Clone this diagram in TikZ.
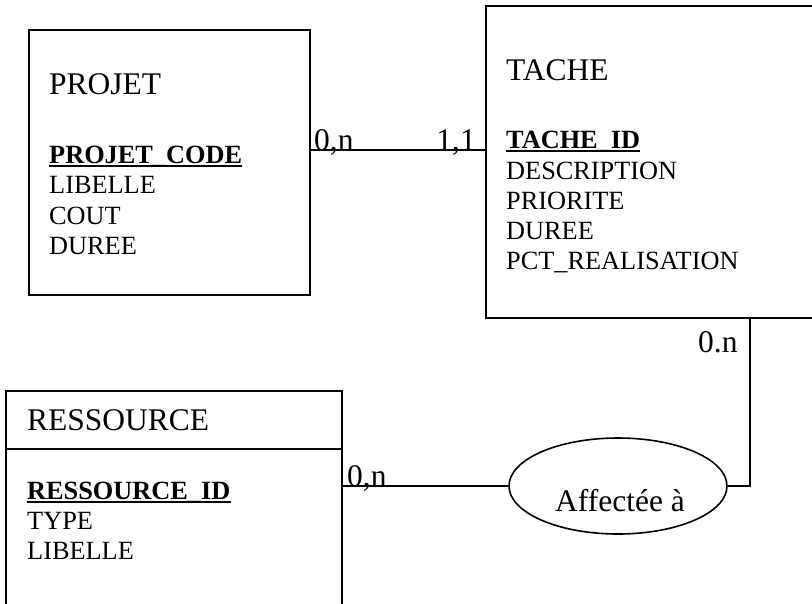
\documentclass[tikz,border=0pt]{standalone}
\usepackage{fontspec}
\setmainfont{Liberation Serif}
\usetikzlibrary{shapes.geometric}
\begin{document}
\begin{tikzpicture}[x=1pt,y=-1pt,
  ent/.style={draw, line width=1.6pt, inner sep=0pt, rectangle},
  ttl/.style={anchor=base west, inner sep=0pt, font=\fontsize{31.5}{36}\selectfont},
  att/.style={anchor=base west, inner sep=0pt, font=\fontsize{26.3}{30}\selectfont},
  keyatt/.style={anchor=base west, inner sep=0pt, font=\fontsize{26.3}{30}\selectfont\bfseries},
  card/.style={anchor=base west, inner sep=0pt, font=\fontsize{31.5}{36}\selectfont},
  conn/.style={line width=1.6pt},
  uline/.style={line width=1.4pt}
]
\useasboundingbox (0,0) rectangle (812,603);

% entity boxes
\node[ent, minimum width=281pt, minimum height=265pt] (projet) at (169.5,162.5) {};
\node[ent, minimum width=344pt, minimum height=312pt] (tache) at (658,162) {};
\node[ent, minimum width=336pt, minimum height=260pt] (ress) at (174,521) {};
\coordinate (div) at (0,449);
\draw[conn] (ress.west |- div) -- (ress.east |- div);

% association
\node[draw, ellipse, line width=1.6pt, minimum width=218pt, minimum height=96pt, inner sep=0pt] (aff) at (618,486) {};
\node[card, anchor=base] (afftxt) at (620,511) {Affectée à};

% PROJET
\node[ttl] (ptitle) at (49,94) {PROJET};
\node[keyatt] (pk) at (49,163) {PROJET\_CODE};
\draw[uline] ([yshift=-3pt]pk.base west) -- ([yshift=-3pt]pk.base east);
\node[att] (pa1) at (49,193.5) {LIBELLE};
\node[att] (pa2) at (49,224) {COUT};
\node[att] (pa3) at (49,254.5) {DUREE};

% TACHE
\node[ttl] (ttitle) at (506,80) {TACHE};
\node[keyatt] (tk) at (506,148) {TACHE\_ID};
\draw[uline] ([yshift=-3pt]tk.base west) -- ([yshift=-3pt]tk.base east);
\node[att] (ta1) at (506,179) {DESCRIPTION};
\node[att] (ta2) at (506,209) {PRIORITE};
\node[att] (ta3) at (506,239) {DUREE};
\node[att] (ta4) at (506,269) {PCT\_REALISATION};

% RESSOURCE
\node[ttl] (rtitle) at (27,430) {RESSOURCE};
\node[keyatt] (rk) at (27,499) {RESSOURCE\_ID};
\draw[uline] ([yshift=-3pt]rk.base west) -- ([yshift=-3pt]rk.base east);
\node[att] (ra1) at (27,529) {TYPE};
\node[att] (ra2) at (27,559) {LIBELLE};

% connectors
\coordinate (y150) at (0,150);
\draw[conn] (projet.east |- y150) -- (tache.west |- y150);
\draw[conn] (ress.east |- aff.west) -- (aff.west);
\coordinate (corner) at (750,486);
\draw[conn] (aff.east) -- (corner) -- (corner |- tache.south);

% cardinalities
\node[card] (c1) at (314,150) {0,n};
\node[card, anchor=base east] (c2) at (476,150) {1,1};
\node[card] (c3) at (347,486) {0,n};
\node[card] (c4) at (698,352) {0.n};
\end{tikzpicture}
\end{document}
